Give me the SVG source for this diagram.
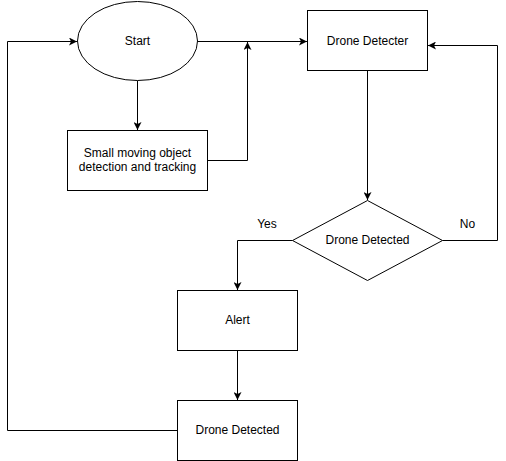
<svg xmlns="http://www.w3.org/2000/svg" width="506" height="461" viewBox="0 0 506 461">
<style>
.n{fill:#fff;stroke:#000;stroke-width:1}
.c{fill:none;stroke:#000;stroke-width:1}
text{font-family:"Liberation Sans",Arial,sans-serif;font-size:12px;fill:#000;text-anchor:middle}
</style>
<defs>
<marker id="a" markerUnits="userSpaceOnUse" viewBox="0 0 8 8" refX="8" refY="4" markerWidth="8" markerHeight="8" orient="auto">
<path d="M0,0 L8,4 L0,8 L2,4 Z" fill="#000"/>
</marker>
</defs>
<rect width="506" height="461" fill="#fff"/>
<g id="connectors">
<path class="c" d="M197.5,41.5 L307,41.5" marker-end="url(#a)"/>
<path class="c" d="M137.5,80.5 L137.5,130" marker-end="url(#a)"/>
<path class="c" d="M207.5,160.5 L247.5,160.5 L247.5,42" marker-end="url(#a)"/>
<path class="c" d="M367.5,70.5 L367.5,200" marker-end="url(#a)"/>
<path class="c" d="M442.5,240.5 L497.5,240.5 L497.5,45.5 L428,45.5" marker-end="url(#a)"/>
<path class="c" d="M292.5,240.5 L237.5,240.5 L237.5,290" marker-end="url(#a)"/>
<path class="c" d="M237.5,350.5 L237.5,400" marker-end="url(#a)"/>
<path class="c" d="M177.5,430.5 L7.5,430.5 L7.5,41.5 L77,41.5" marker-end="url(#a)"/>
<text x="267" y="228">Yes</text>
<text x="467.5" y="228">No</text>
</g>
<g id="start">
<ellipse class="n" cx="137.5" cy="41" rx="60" ry="39.5"/>
<text x="137.5" y="45">Start</text>
</g>
<g id="smallobj">
<rect class="n" x="67.5" y="130.5" width="140" height="60"/>
<text x="137.5" y="157">Small moving object</text>
<text x="137.5" y="171">detection and tracking</text>
</g>
<g id="detecter">
<rect class="n" x="307.5" y="10.5" width="120" height="60"/>
<text x="367.5" y="45">Drone Detecter</text>
</g>
<g id="decision">
<path class="n" d="M367.5,200.5 L442.5,240.5 L367.5,280.5 L292.5,240.5 Z"/>
<text x="367.5" y="244">Drone Detected</text>
</g>
<g id="alert">
<rect class="n" x="177.5" y="290.5" width="120" height="60"/>
<text x="237.5" y="324">Alert</text>
</g>
<g id="detected">
<rect class="n" x="177.5" y="400.5" width="120" height="60"/>
<text x="237.5" y="434">Drone Detected</text>
</g>
</svg>
